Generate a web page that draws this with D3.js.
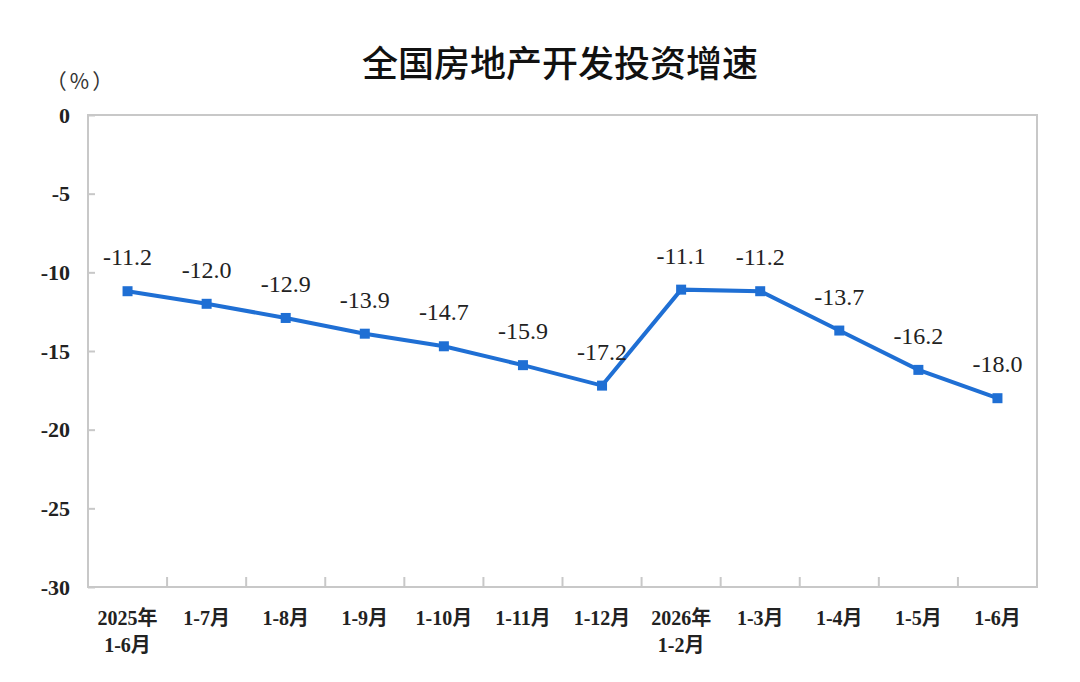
<!DOCTYPE html>
<html>
<head>
<meta charset="utf-8">
<script src="https://cdn.jsdelivr.net/npm/d3@7"></script>
<style>
  body { margin: 0; background: #fff; }
  .serif { font-family: "Liberation Serif", "Noto Sans CJK SC", serif; }
</style>
</head>
<body>
<svg width="1080" height="682"></svg>
<script>
const periods = [
  ['2025年', '1-6月'], ['1-7月'], ['1-8月'], ['1-9月'], ['1-10月'], ['1-11月'],
  ['1-12月'], ['2026年', '1-2月'], ['1-3月'], ['1-4月'], ['1-5月'], ['1-6月']
];
const growth = [-11.2, -12.0, -12.9, -13.9, -14.7, -15.9, -17.2, -11.1, -11.2, -13.7, -16.2, -18.0];
const yTicks = [0, -5, -10, -15, -20, -25, -30];

const margin = {top: 115, right: 43, bottom: 95, left: 88};
const width = 1080, height = 682;

const svg = d3.select('svg');

const x = d3.scaleBand()
  .domain(d3.range(periods.length))
  .range([margin.left, width - margin.right]);

const y = d3.scaleLinear()
  .domain([-30, 0])
  .range([height - margin.bottom, margin.top]);

const frame = '#c8c8c8';

// title
svg.append('text')
  .attr('x', 560)
  .attr('y', 77)
  .attr('text-anchor', 'middle')
  .style('font-family', '"Noto Sans CJK SC", sans-serif')
  .style('font-size', '36px')
  .style('font-weight', 500)
  .attr('fill', '#111')
  .text('全国房地产开发投资增速');

// unit
svg.append('text')
  .attr('x', 81)
  .attr('y', 89)
  .attr('text-anchor', 'middle')
  .style('font-family', '"Noto Sans CJK SC", sans-serif')
  .style('font-size', '21px')
  .style('letter-spacing', '3px')
  .attr('fill', '#333')
  .text('（%）');

// frame
svg.append('rect')
  .attr('x', margin.left)
  .attr('y', margin.top)
  .attr('width', width - margin.left - margin.right)
  .attr('height', height - margin.top - margin.bottom)
  .attr('fill', 'none')
  .attr('stroke', frame)
  .attr('stroke-width', 2);

// y axis
const yAxis = svg.append('g')
  .attr('transform', `translate(${margin.left},0)`)
  .call(d3.axisLeft(y).tickValues(yTicks).tickFormat(d => String(d))
    .tickSizeInner(-7).tickSizeOuter(0).tickPadding(18));
yAxis.select('.domain').remove();
yAxis.selectAll('line').attr('stroke', frame).attr('stroke-width', 2);
yAxis.selectAll('text')
  .attr('class', 'serif')
  .style('font-size', '22px')
  .style('font-weight', 'bold')
  .attr('fill', '#222');

// x ticks on band boundaries
const xBounds = d3.range(1, periods.length).map(i => x(i));
svg.append('g')
  .selectAll('line')
  .data(xBounds)
  .join('line')
  .attr('x1', d => d).attr('x2', d => d)
  .attr('y1', y(-30)).attr('y2', y(-30) - 10)
  .attr('stroke', frame)
  .attr('stroke-width', 2);

// x labels
const xl = svg.append('g')
  .selectAll('text')
  .data(periods)
  .join('text')
  .attr('class', 'serif')
  .attr('text-anchor', 'middle')
  .style('font-size', '20px')
  .style('font-weight', 'bold')
  .attr('fill', '#222')
  .attr('transform', (d, i) => `translate(${x(i) + x.bandwidth() / 2},${y(-30) + 38})`);
xl.selectAll('tspan')
  .data(d => d)
  .join('tspan')
  .attr('x', 0)
  .attr('dy', (d, i) => i === 0 ? 0 : 27)
  .text(d => d);

// line
const cx = i => x(i) + x.bandwidth() / 2;
const blue = '#1f6fd4';
svg.append('path')
  .datum(growth)
  .attr('fill', 'none')
  .attr('stroke', blue)
  .attr('stroke-width', 4)
  .attr('stroke-linejoin', 'miter')
  .attr('d', d3.line().x((d, i) => cx(i)).y(d => y(d)));

svg.append('g')
  .selectAll('rect')
  .data(growth)
  .join('rect')
  .attr('x', (d, i) => cx(i) - 5)
  .attr('y', d => y(d) - 5)
  .attr('width', 10)
  .attr('height', 10)
  .attr('fill', blue);

// value labels
svg.append('g')
  .selectAll('text')
  .data(growth)
  .join('text')
  .attr('class', 'serif')
  .attr('text-anchor', 'middle')
  .attr('x', (d, i) => cx(i))
  .attr('y', d => y(d) - 26)
  .style('font-size', '24px')
  .attr('fill', '#222')
  .text(d => d.toFixed(1));
</script>
</body>
</html>
